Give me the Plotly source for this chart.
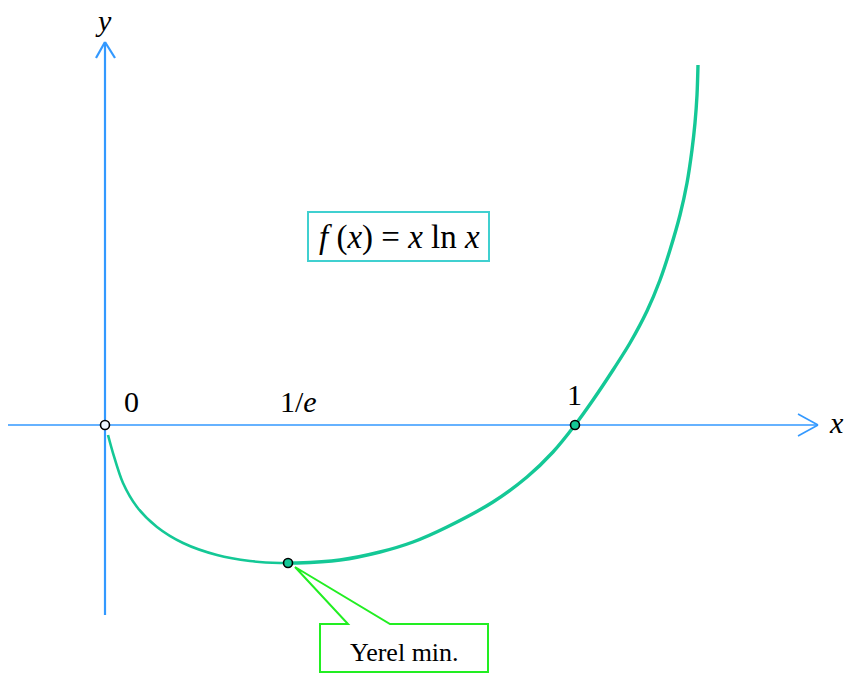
import plotly.graph_objects as go

# Curve samples (x, f(x))
left_x = [0.0064, 0.017, 0.0383, 0.0681, 0.1106, 0.166, 0.2383, 0.3085, 0.3723, 0.3894]
left_y = [-0.0267, -0.0747, -0.1547, -0.2187, -0.272, -0.3147, -0.3467, -0.3627, -0.368, -0.368]
right_x = [0.3894, 0.4085, 0.5, 0.5851, 0.6553, 0.7277, 0.8255, 0.8979, 0.9532, 1.0,
           1.0383, 1.0809, 1.117, 1.1532, 1.1809, 1.2021, 1.2234, 1.2383, 1.2489, 1.2553, 1.2596, 1.2617]
right_y = [-0.368, -0.368, -0.36, -0.3387, -0.312, -0.272, -0.2053, -0.1387, -0.072, 0.0,
           0.0667, 0.1467, 0.2187, 0.304, 0.3867, 0.4667, 0.56, 0.6453, 0.7333, 0.8053, 0.88, 0.96]

point_x = [0.0, 0.3894, 1.0]
point_y = [0.0, -0.368, 0.0]

W, H = 848, 674
OX, OY, SX, SY = 105, 425, 470, 375


def X(px):
    return (px - OX) / SX


def Y(py):
    return (OY - py) / SY


BLUE = "#3399ff"
GREEN = "#14c896"

fig = go.Figure()
fig.add_trace(go.Scatter(x=left_x, y=left_y, mode="lines",
                         line=dict(color=GREEN, width=2.6, shape="spline", smoothing=0.8),
                         hoverinfo="skip", showlegend=False))
fig.add_trace(go.Scatter(x=right_x, y=right_y, mode="lines",
                         line=dict(color=GREEN, width=3.4, shape="spline", smoothing=0.8),
                         hoverinfo="skip", showlegend=False))
fig.add_trace(go.Scatter(x=point_x, y=point_y, mode="markers",
                         marker=dict(size=9, color=["#eef6ff", GREEN, GREEN],
                                     line=dict(color="black", width=1.6)),
                         hoverinfo="skip", showlegend=False))

shapes = []


def seg(x0, y0, x1, y1, w, c=BLUE):
    shapes.append(dict(type="line", xref="x", yref="y",
                       x0=X(x0), y0=Y(y0), x1=X(x1), y1=Y(y1),
                       line=dict(color=c, width=w), layer="below"))


# x axis with open arrowhead
seg(8, 425, 818, 425, 1.6)
seg(798, 414, 818, 425, 1.6)
seg(798, 436, 818, 425, 1.6)
# y axis with open arrowhead
seg(105, 615, 105, 42, 2.2)
seg(96, 58, 105, 42, 2.2)
seg(115, 58, 105, 42, 2.2)

# formula box
shapes.append(dict(type="rect", xref="x", yref="y",
                   x0=X(308), y0=Y(212), x1=X(489), y1=Y(261),
                   line=dict(color="#40d0d0", width=2), fillcolor="white"))

# callout
pts = [(320, 624), (348, 624), (295, 567), (390, 624), (488, 624), (488, 672), (320, 672)]
path = "M " + " L ".join(f"{X(a):.5f},{Y(b):.5f}" for a, b in pts) + " Z"
shapes.append(dict(type="path", xref="x", yref="y", path=path,
                   line=dict(color="#22ee22", width=2), fillcolor="white"))

FONT = "Liberation Serif"


def txt(px, py, s, size):
    return dict(x=X(px), y=Y(py), xref="x", yref="y", text=s, showarrow=False,
                font=dict(family=FONT, size=size, color="black"),
                xanchor="center", yanchor="middle")


annotations = [
    txt(103, 20, "<i>y</i>", 30),
    txt(836, 422, "<i>x</i>", 30),
    txt(131, 401, "0", 30),
    txt(298, 401, "1/<i>e</i>", 30),
    txt(574, 394, "1", 30),
    txt(399, 237, "<i>f</i> (<i>x</i>) = <i>x</i> ln <i>x</i>", 33),
    txt(404, 652, "Yerel min.", 26),
]

fig.update_layout(
    width=W, height=H, autosize=False,
    margin=dict(l=0, r=0, t=0, b=0),
    paper_bgcolor="white", plot_bgcolor="white",
    xaxis=dict(range=[X(0), X(W)], visible=False, fixedrange=True),
    yaxis=dict(range=[Y(H), Y(0)], visible=False, fixedrange=True),
    shapes=shapes, annotations=annotations,
)

fig.write_html("out.html", config={"displayModeBar": False},
               post_script="document.body.style.margin='0';document.body.style.overflow='hidden';")
